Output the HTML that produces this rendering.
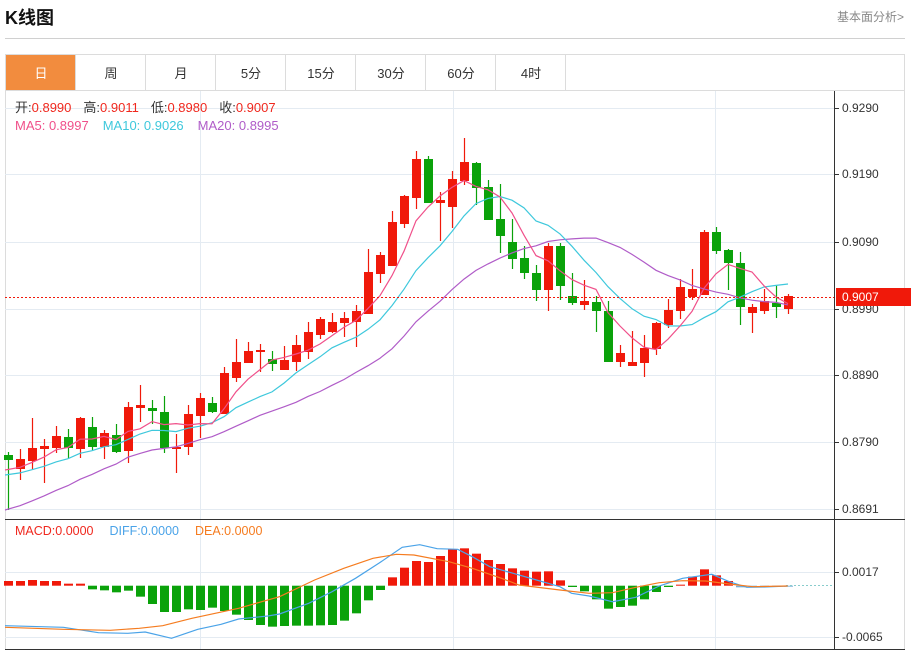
<!DOCTYPE html>
<html><head><meta charset="utf-8">
<style>
body{margin:0;background:#fff;width:911px;height:651px;overflow:hidden;font-family:"Liberation Sans","Noto Sans CJK SC",sans-serif;}
</style></head><body>
<svg id="s" width="911" height="651" xmlns="http://www.w3.org/2000/svg" style="position:absolute;left:0;top:0" font-family="Liberation Sans, Noto Sans CJK SC, sans-serif">
<text x="5" y="24" font-size="18" font-weight="bold" fill="#111">K线图</text>
<text x="837" y="21" font-size="12" fill="#888">基本面分析&gt;</text>
<line x1="5" y1="38.5" x2="905" y2="38.5" stroke="#d0d0d0"/>
<rect x="5.5" y="54.5" width="899" height="595" fill="none" stroke="#dcdcdc"/>
<line x1="5" y1="90.5" x2="905" y2="90.5" stroke="#dcdcdc"/>
<rect x="6" y="55" width="69" height="35" fill="#f28c3e"/>
<g id="tabs" font-size="13" fill="#333" text-anchor="middle"></g>
<g id="grid"></g>
<g id="plot"></g>
<text x="15" y="112" font-size="13"><tspan fill="#333">开:</tspan><tspan fill="#f0281e">0.8990</tspan><tspan fill="#333" dx="12">高:</tspan><tspan fill="#f0281e">0.9011</tspan><tspan fill="#333" dx="12">低:</tspan><tspan fill="#f0281e">0.8980</tspan><tspan fill="#333" dx="12">收:</tspan><tspan fill="#f0281e">0.9007</tspan></text>
<text x="15" y="130" font-size="13"><tspan fill="#f0508a">MA5: 0.8997</tspan><tspan fill="#3ec8dc" dx="14">MA10: 0.9026</tspan><tspan fill="#b05cc8" dx="14">MA20: 0.8995</tspan></text>
<text x="15" y="535" font-size="12.5"><tspan fill="#f0281e">MACD:0.0000</tspan><tspan fill="#4aa3e8" dx="16">DIFF:0.0000</tspan><tspan fill="#f57c20" dx="16">DEA:0.0000</tspan></text>
</svg>
<script>
var NS="http://www.w3.org/2000/svg";
function el(p,t,a,txt){var e=document.createElementNS(NS,t);for(var k in a)e.setAttribute(k,a[k]);if(txt)e.textContent=txt;document.getElementById(p).appendChild(e);return e;}
var tabs=["日","周","月","5分","15分","30分","60分","4时"];
tabs.forEach(function(t,i){var x=6+i*70;el("tabs","text",{x:x+35,y:78,fill:i==0?"#fff":"#333"},t);el("tabs","line",{x1:x+69.5,y1:55,x2:x+69.5,y2:90,stroke:"#dcdcdc"});});
[108,174,242,309,375,442,509].forEach(function(y){el("grid","line",{x1:5,y1:y+.5,x2:834,y2:y+.5,stroke:"#e4ebf2"});});
[572,637].forEach(function(y){el("grid","line",{x1:5,y1:y+.5,x2:834,y2:y+.5,stroke:"#e4ebf2"});});
[200,453,715].forEach(function(x){el("grid","line",{x1:x+.5,y1:91,x2:x+.5,y2:649,stroke:"#e4ebf2"});});
el("grid","line",{x1:834.5,y1:91,x2:834.5,y2:649,stroke:"#333"});
el("grid","line",{x1:5,y1:519.5,x2:905,y2:519.5,stroke:"#333"});
el("grid","line",{x1:5,y1:649.5,x2:905,y2:649.5,stroke:"#333"});
var labs=[[108,"0.9290"],[174,"0.9190"],[242,"0.9090"],[309,"0.8990"],[375,"0.8890"],[442,"0.8790"],[509,"0.8691"],[572,"0.0017"],[637,"-0.0065"]];
labs.forEach(function(l){el("grid","line",{x1:834,y1:l[0]+.5,x2:839,y2:l[0]+.5,stroke:"#333"});el("grid","text",{x:842,y:l[0]+4,"font-size":12,fill:"#333"},l[1]);});
var C=[[455,460,452,510,0],[459,469,449,480,1],[448,461,418,469,1],[446,449,439,483,1],[436,448,426,453,1],[437,448,429,458,0],[418,449,417,458,1],[427,447,417,450,0],[433,447,430,459,1],[435,452,424,453,0],
[407,451,402,463,1],[405,408,385,422,1],[408,411,400,424,0],[412,448,396,453,0],[447,449,434,473,1],[414,447,405,455,1],[398,416,393,438,1],[403,412,397,413,0],[373,414,367,414,1],[362,378,339,382,1],
[351,363,342,363,1],[350,352,344,372,1],[359,364,351,371,0],[360,370,346,370,1],[345,362,335,371,1],[332,352,322,359,1],[319,335,317,339,1],[322,332,313,333,1],[318,323,312,337,1],[311,322,305,347,1],
[272,314,249,314,1],[255,274,252,283,1],[222,266,211,266,1],[196,224,195,228,1],[159,198,151,209,1],[159,203,156,203,0],[200,203,192,241,1],[179,207,171,228,1],[162,181,138,185,1],[163,188,162,205,0],
[187,220,180,220,0],[219,236,184,253,0],[242,259,219,269,0],[258,273,246,279,0],[273,290,265,301,0],[246,290,243,311,1],[246,286,243,300,0],[296,303,273,305,0],[301,305,280,310,1],[302,311,296,332,0],
[311,362,301,362,0],[353,362,345,367,1],[362,366,331,366,1],[348,363,335,377,1],[323,349,322,355,1],[310,325,299,328,1],[287,311,279,319,1],[289,297,269,300,1],[232,295,230,295,1],[232,251,227,254,0],
[250,263,249,290,0],[263,307,252,325,0],[307,313,304,333,1],[301,311,289,314,1],[303,307,285,318,0],[296,309,294,314,1]];
var RED="#f0190a",GRN="#0aa20a";
var closes=[];
C.forEach(function(c,i){var x=8+12*i,col=c[4]?RED:GRN;
el("plot","line",{x1:x+.5,y1:c[2],x2:x+.5,y2:c[3],stroke:col,"stroke-width":1.2});
el("plot","rect",{x:x-4,y:c[0],width:9,height:Math.max(1.5,c[1]-c[0]),fill:col});
closes.push(c[4]?c[0]:c[1]);});
var pre=[];for(var i=0;i<10;i++)pre.push(545);for(i=0;i<5;i++)pre.push(480);for(i=0;i<4;i++)pre.push(472.5);
var all=pre.concat(closes);
function ma(n,color){var pts=[];for(var i=0;i<closes.length;i++){var j=i+pre.length,s=0;for(var k=0;k<n;k++)s+=all[j-k];pts.push((i==0?5:8+12*i)+","+(s/n).toFixed(1));}
el("plot","polyline",{points:pts.join(" "),fill:"none",stroke:color,"stroke-width":1.2});}
ma(20,"#b05cc8");ma(10,"#3ec8dc");ma(5,"#f0508a");
el("plot","line",{x1:5,y1:297.5,x2:834,y2:297.5,stroke:"#f0190a","stroke-dasharray":"2,2"});
el("plot","rect",{x:836,y:288,width:75,height:18,fill:"#f0190a"});
el("plot","text",{x:842,y:301,"font-size":12,fill:"#fff"},"0.9007");
var M=[213,213,210,213,213,221,221,238,241,247,242,260,282,306,306,298,300,293,303,314,330,345,350,348,347,347,346,345,332,310,271,240,202,173,153,156,138,118,115,131,150,162,175,182,185,184,211,231,244,268,296,291,287,268,246,231,224,200,178,196,213,232,230,230,229,228];
var Z=585.7;
M.forEach(function(v,i){var y=510+v/3,x=8+12*i;var col=y<Z?RED:GRN;
if(i==47||i==55)col=GRN;
if(i>=61){col="#7ab0d8";}
var t=Math.min(y,Z),h=Math.abs(y-Z);if(h<1)h=1;
el("plot","rect",{x:x-4,y:t,width:9,height:h,fill:col});});
el("plot","line",{x1:786,y1:585.5,x2:834,y2:585.5,stroke:"#8cc","stroke-dasharray":"2,2"});
function ln(arr,color){var p=arr.map(function(a){return (a[0]/1.712+5).toFixed(1)+","+(510+a[1]/3).toFixed(1);});el("plot","polyline",{points:p.join(" "),fill:"none",stroke:color,"stroke-width":1.2});}
ln([[0,347],[100,352],[160,368],[210,370],[240,366],[285,385],[330,358],[370,343],[400,327],[450,318],[470,312],[520,280],[560,245],[600,205],[640,160],[680,112],[710,104],[740,116],[775,118],[800,140],[830,170],[870,190],[910,210],[950,230],[970,250],[1000,258],[1040,275],[1080,262],[1120,228],[1160,205],[1210,193],[1240,215],[1270,232],[1300,231],[1340,228]],"#4aa3e8");
ln([[0,352],[100,358],[180,361],[230,355],[270,347],[320,325],[400,295],[470,260],[530,210],[580,175],[630,145],[670,133],[700,135],[760,155],[800,175],[850,205],[880,225],[950,240],[1000,250],[1040,248],[1080,232],[1120,218],[1160,212],[1200,213],[1240,222],[1280,230],[1340,228]],"#f57c20");
</script>
</body></html>
